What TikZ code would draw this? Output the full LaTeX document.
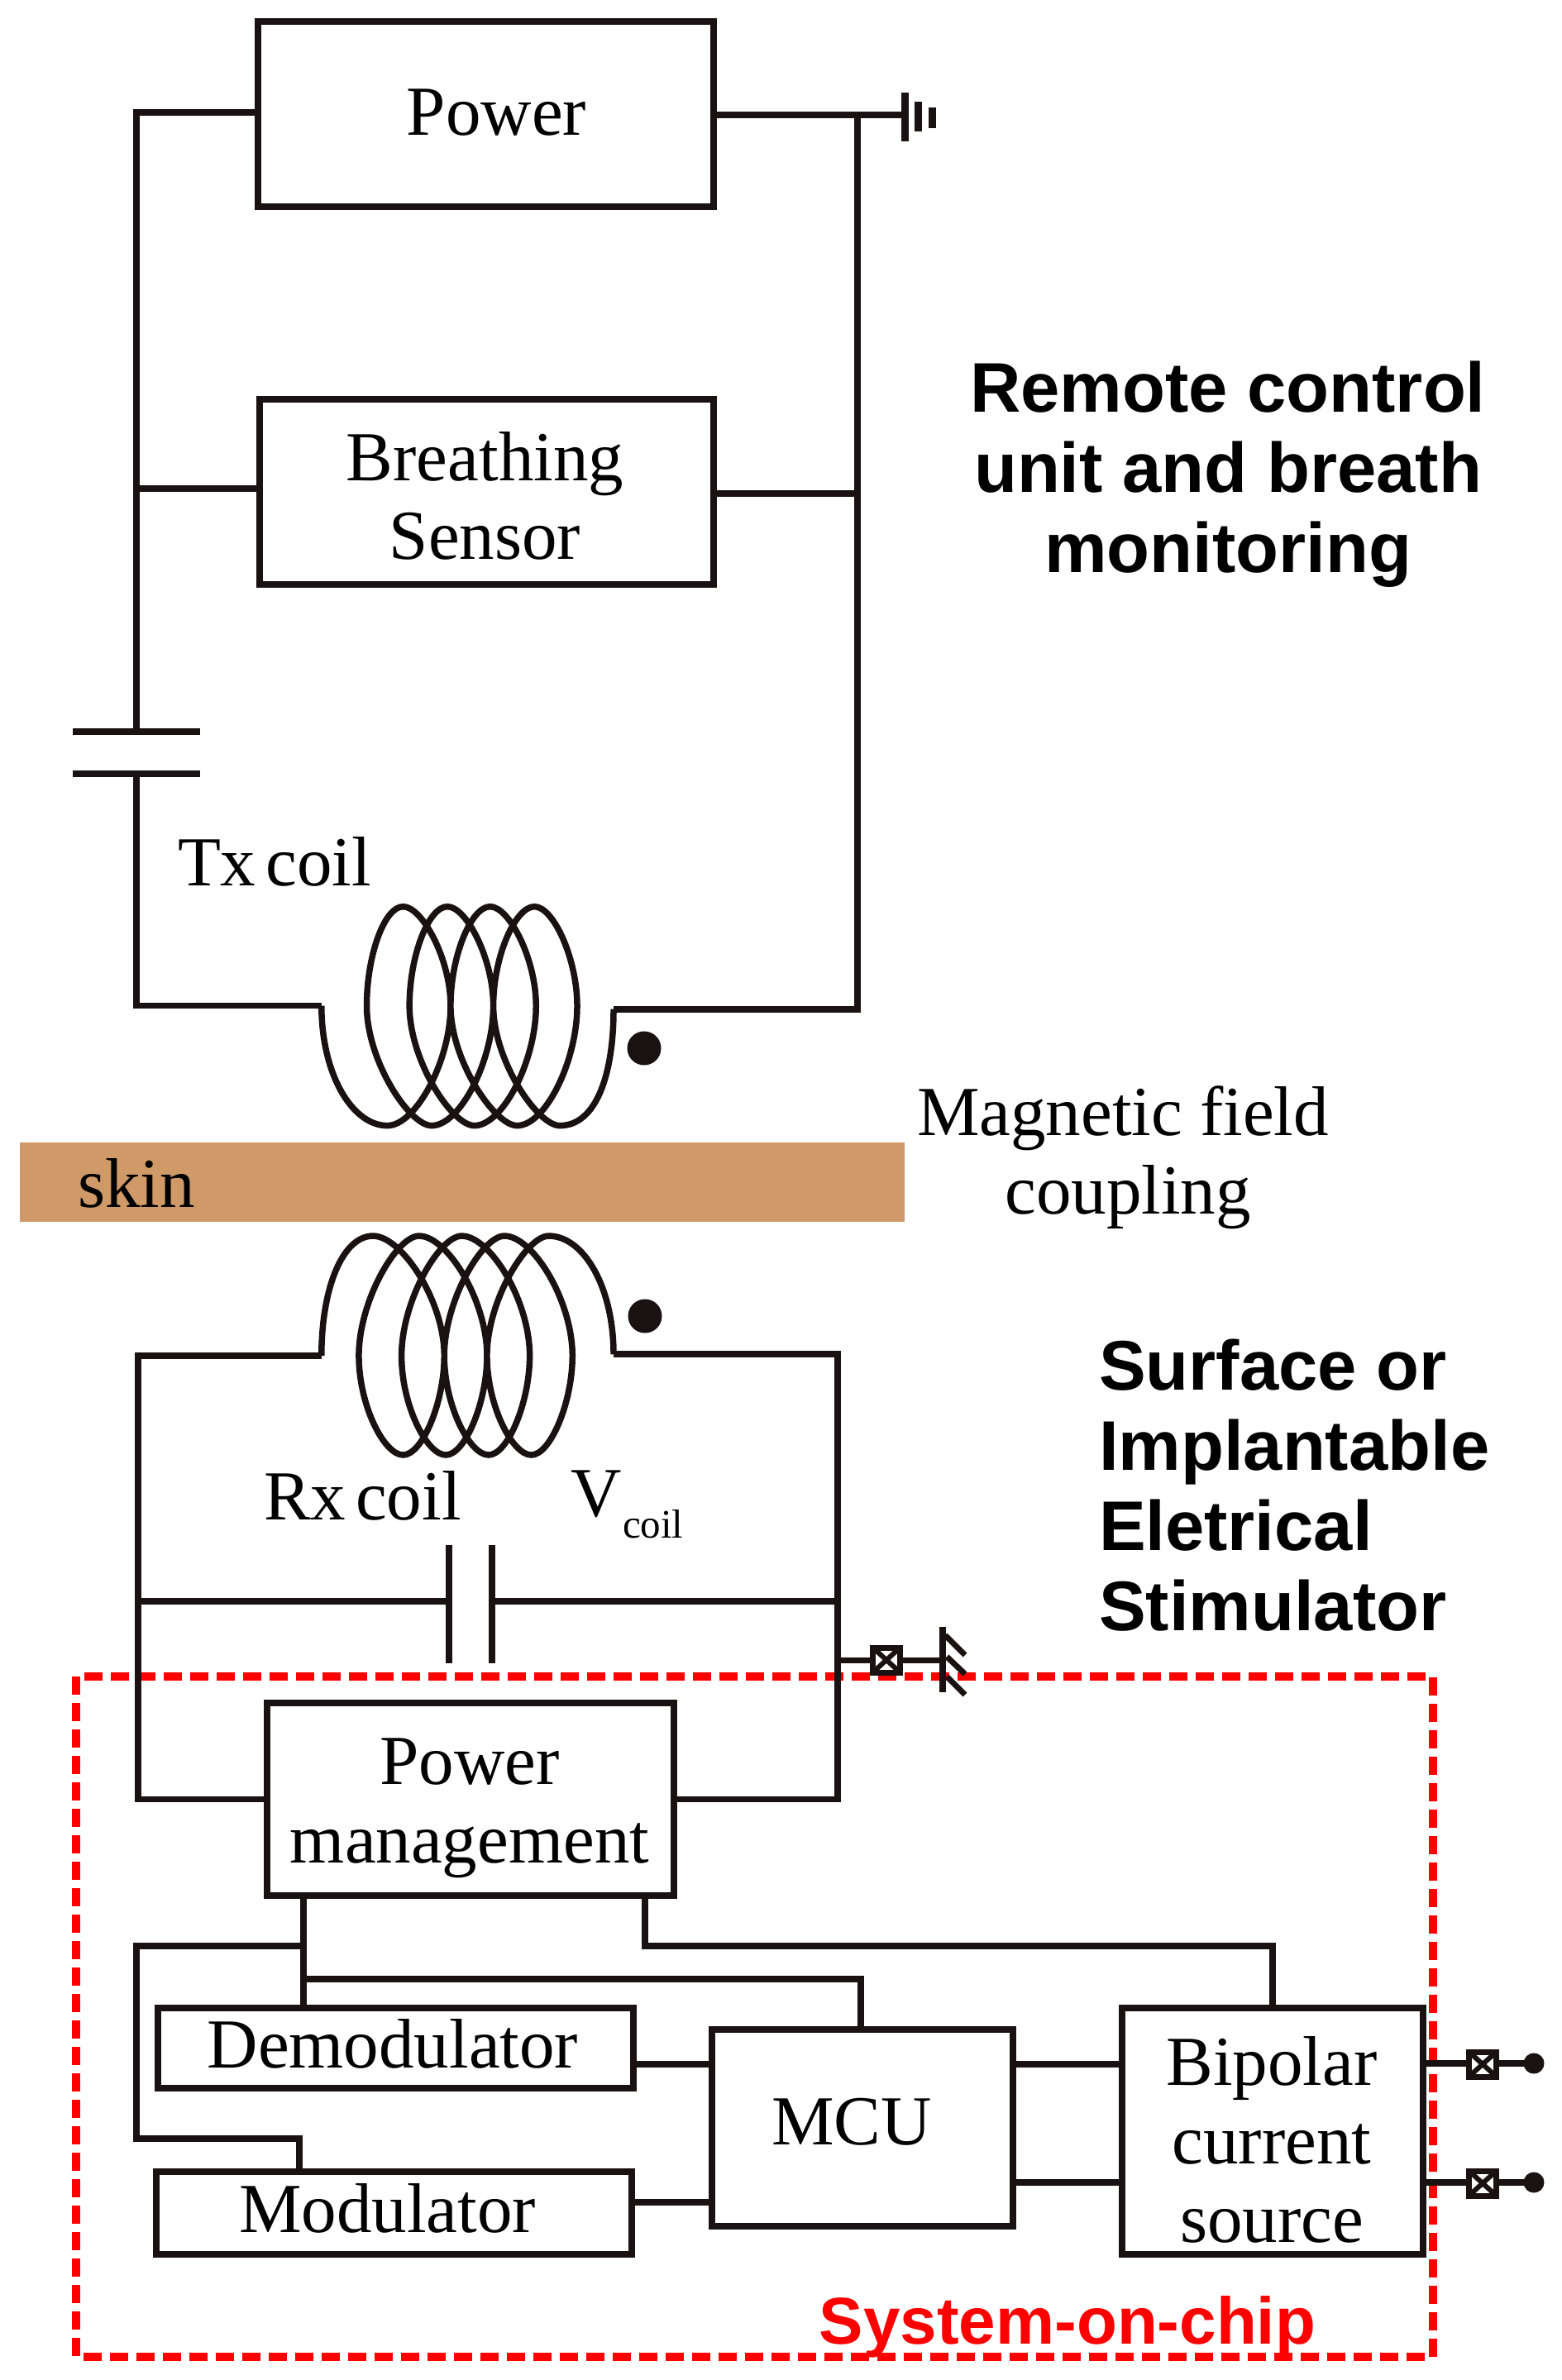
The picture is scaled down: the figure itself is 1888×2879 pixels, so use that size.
\documentclass[tikz,border=0pt]{standalone}
\usepackage{fontspec}
\setmainfont{Liberation Serif}
\newfontfamily\headfont{Liberation Sans}
\definecolor{wire}{HTML}{1A1112}
\definecolor{skincol}{HTML}{CF9A68}
\newcommand\coilloop[5]{.. controls ({#1+90},1085) and (#2,850) .. (#2,650) .. controls (#2,480) and ({#3+60},290) .. (#3,290) .. controls ({#3-60},290) and (#4,470) .. (#4,650) .. controls (#4,850) and ({#5-70},1085) .. (#5,1085)}
\newcommand\switchbox[2]{%
  \node[swbox] (#1) at #2 {};
  \draw[line width=6pt,wire] (#1.north west) -- (#1.south east) (#1.north east) -- (#1.south west);}
\tikzset{
  wireline/.style={line width=7.5pt,draw=wire,line cap=butt,line join=miter},
  txt/.style={inner sep=0pt,outer sep=0pt,align=center,text=black,font=\fontsize{85}{95}\selectfont},
  box/.style={draw=wire,line width=7.5pt,rectangle,inner sep=0pt,outer sep=0pt},
  lab/.style={txt},
  head/.style={inner sep=0pt,outer sep=0pt,text=black,font=\headfont\bfseries\fontsize{85}{97}\selectfont},
  swbox/.style={draw=wire,line width=7pt,fill=white,rectangle,inner sep=0pt,outer sep=0pt,minimum width=33pt,minimum height=30pt},
  termdot/.style={circle,fill=wire,inner sep=0pt,outer sep=0pt,minimum size=25pt},
  polarity/.style={circle,fill=wire,inner sep=0pt,outer sep=0pt,minimum size=41pt},
}
\begin{document}
\begin{tikzpicture}[x=1pt,y=-1pt]
\useasboundingbox (0,0) rectangle (1888,2879);
% system-on-chip frame
\draw[red,line width=10pt,dash pattern=on 22pt off 10pt] (92,2028) rectangle (1733,2851);
\node[inner sep=0pt,text=red,font=\headfont\bfseries\fontsize{80}{90}\selectfont] (soc) at (1291,2815) {System-on-chip};
% boxes
\node[box,minimum width=551pt,minimum height=224pt,label={[txt,name=powertext,shift={(13,-2)}]center:Power}] (power) at (587.5,138) {};
\node[box,minimum width=549pt,minimum height=224pt,label={[txt,name=breathtext,shift={(-2,5)}]center:{Breathing\\Sensor}}] (breath) at (588.5,595) {};
\node[box,minimum width=492pt,minimum height=233pt,label={[txt,name=pmtext,shift={(-1,11)}]center:{Power\\management}}] (pm) at (569,2176.5) {};
\node[box,minimum width=575pt,minimum height=97pt,label={[txt,name=demodtext,shift={(-3.5,-5.5)}]center:Demodulator}] (demod) at (478.5,2477.5) {};
\node[box,minimum width=575pt,minimum height=100pt,label={[txt,name=modtext,shift={(-8,-5.5)}]center:Modulator}] (mod) at (476.5,2677) {};
\node[box,minimum width=364pt,minimum height=238pt,label={[txt,name=mcutext,shift={(-13,-7)}]center:MCU}] (mcu) at (1043,2574) {};
\node[box,minimum width=364pt,minimum height=298pt,label={[txt,name=biptext,shift={(-1,10)}]center:{Bipolar\\current\\source}}] (bip) at (1539,2578) {};
% skin
\node[fill=skincol,minimum width=1070pt,minimum height=96pt,inner sep=0pt,outer sep=0pt] (skin) at (559,1430) {};
\node[lab,anchor=base] (skintext) at (165,1460) {skin};
% labels
\node[lab,anchor=base west] (txlabel) at (215,1071) {Tx\hspace{12pt}coil};
\node[lab,anchor=base west] (rxlabel) at (319,1838) {Rx\hspace{12pt}coil};
\node[lab,anchor=base west] (vlabel) at (690,1834) {V};
\node[lab,anchor=base west,font=\fontsize{49}{52}\selectfont] (vsub) at (753,1860) {coil};
\node[lab] (magnetic) at (1358,1400) {Magnetic field\\\hspace{12pt}coupling};
\node[head,align=center] (remote) at (1485,574) {Remote control\\unit and breath\\monitoring};
\node[head,align=left,anchor=west] (surface) at (1329,1797) {Surface or\\Implantable\\Eletrical\\Stimulator};
% named junctions
\coordinate (L) at (165,136);
\coordinate (R) at (1037,139);
\coordinate (gnd) at (1094,139);
\coordinate (capTa) at (165,885);
\coordinate (capTb) at (165,936);
\coordinate (txL) at (388.8,1216.7);
\coordinate (txR) at (742,1221);
\coordinate (rxL) at (388.8,1640);
\coordinate (rxR) at (742,1638);
\coordinate (rL) at (167,1640);
\coordinate (rR) at (1013,1638);
\coordinate (capRa) at (543,1937);
\coordinate (capRb) at (595,1937);
\coordinate (stub) at (1140,2008);
% Tx loop wires
\draw[wireline] (power.west |- L) -- (L) -- (capTa);
\draw[wireline] (capTb) -- (capTb |- txL) -- (txL);
\draw[wireline] (breath.west |- 0,591) -- (165,591);
\draw[wireline] (power.east |- R) -- (gnd);
\draw[wireline] (R) -- (R |- txR) -- (txR);
\draw[wireline] (breath.east |- 0,597) -- (R |- 0,597);
% Tx capacitor
\draw[wireline] (88,885) -- (242,885) (88,936) -- (242,936);
% ground top right
\draw[line width=9pt,draw=wire] (gnd |- 0,112) -- (gnd |- 0,171);
\draw[line width=9pt,draw=wire] (1110,123) -- (1110,159);
\draw[line width=9pt,draw=wire] (1127,130) -- (1127,155);
% Tx coil
\begin{scope}[shift={(300,1000)},xscale=.3827,yscale=.3333]
\draw[wireline] (232,650) .. controls (232,900) and (330,1085) .. (440,1085)
  \coilloop{440}{640}{490}{375}{580}
  \coilloop{580}{775}{630}{510}{715}
  \coilloop{715}{910}{765}{640}{850}
  \coilloop{850}{1040}{905}{775}{985}
  .. controls (1100,1085) and (1155,900) .. (1155,662);
\end{scope}
\node[polarity] (dotT) at (779,1268) {};
% Rx coil
\begin{scope}[shift={(300,1856.67)},xscale=.3827,yscale=-.3333]
\draw[wireline] (232,650) .. controls (232,900) and (300,1085) .. (395,1085)
  \coilloop{395}{620}{490}{350}{540}
  \coilloop{540}{755}{625}{485}{675}
  \coilloop{675}{890}{760}{620}{810}
  \coilloop{810}{1025}{895}{755}{950}
  .. controls (1060,1085) and (1155,900) .. (1155,655);
\end{scope}
\node[polarity] (dotR) at (780,1592) {};
% Rx loop wires
\draw[wireline] (rxL) -- (rL) -- (rL |- pm.west) -- (pm.west);
\draw[wireline] (rxR) -- (rR) -- (rR |- pm.east) -- (pm.east);
\draw[wireline] (rL |- capRa) -- (capRa);
\draw[wireline] (capRb) -- (rR |- capRb);
\draw[wireline] (543,1869) -- (543,2012) (595,1869) -- (595,2012);
% ground stub
\draw[line width=7pt,draw=wire] (rR |- stub) -- (stub);
\switchbox{swG}{(1072,2008)}
\draw[line width=8pt,draw=wire] (stub |- 0,1968) -- (stub |- 0,2047);
\draw[line width=7pt,draw=wire] (1143,1978) -- (1167,2002) (1145,2004) -- (1167,2025) (1145,2028) -- (1167,2050);
% digital wiring
\coordinate (a) at (367,2354);
\coordinate (b) at (367,2394);
\coordinate (c) at (780,2354);
\draw[wireline] (a |- pm.south) -- (a |- demod.north);
\draw[wireline] (a) -- (165,2354) -- (165,2587) -- (362,2587) -- (362 ,2627);
\draw[wireline] (b) -- (1041,2394) -- (1041,2455);
\draw[wireline] (c |- pm.south) -- (c) -- (bip.north |- c) -- (bip.north);
\draw[wireline] (demod.east |- 0,2497) -- (mcu.west |- 0,2497);
\draw[wireline] (mod.east |- 0,2664) -- (mcu.west |- 0,2664);
\draw[wireline] (mcu.east |- 0,2497) -- (bip.west |- 0,2497);
\draw[wireline] (mcu.east |- 0,2640) -- (bip.west |- 0,2640);
% outputs
\node[termdot] (t1) at (1855,2496) {};
\node[termdot] (t2) at (1855,2640) {};
\draw[wireline] (bip.east |- t1) -- (t1);
\draw[wireline] (bip.east |- t2) -- (t2);
\switchbox{sw1}{(1793,2497)}
\switchbox{sw2}{(1793,2641)}
\end{tikzpicture}
\end{document}
